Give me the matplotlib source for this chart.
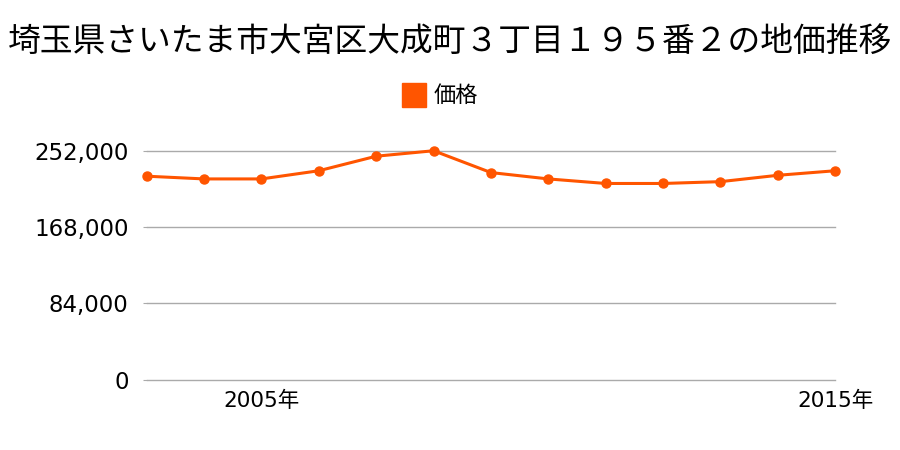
import matplotlib
matplotlib.use("Agg")
import matplotlib.pyplot as plt
from matplotlib.lines import Line2D

plt.rcParams['font.family'] = ['Noto Sans CJK JP', 'DejaVu Sans']

title = "埼玉県さいたま市大宮区大成町３丁目１９５番２の地価推移"
series_name = "価格"
years = [2003, 2004, 2005, 2006, 2007, 2008, 2009, 2010, 2011, 2012, 2013, 2014, 2015]
prices = [224000, 221000, 221000, 230000, 246000, 252000, 228000, 221000,
          216000, 216000, 218000, 225000, 230000]
yticks = [0, 84000, 168000, 252000]
xticks = [2005, 2015]
xlabels = ["2005年", "2015年"]

color = "#ff5500"
num_font = ['DejaVu Sans', 'Noto Sans CJK JP']

fig = plt.figure(figsize=(9, 4.5), dpi=100)
ax = fig.add_axes([0.163, 0.156, 0.765, 0.509])

ax.plot(years, prices, color=color, lw=2.2, marker='o', ms=6.5, clip_on=False, zorder=3)

ax.set_xlim(2003, 2015)
ax.set_ylim(0, 252000)
ax.set_yticks(yticks)
ax.set_yticklabels([f"{v:,}" for v in yticks], family=num_font, fontsize=16.5)
ax.set_xticks(xticks)
ax.set_xticklabels(xlabels, family=num_font, fontsize=15.5)
ax.grid(axis='y', color='#aaaaaa', lw=1)
for gl in ax.get_ygridlines():
    gl.set_clip_on(False)
ax.set_axisbelow(True)
for s in ax.spines.values():
    s.set_visible(False)
ax.tick_params(axis='y', length=3, color='#aaaaaa', pad=10)
ax.tick_params(axis='x', length=0, pad=8)

fig.text(0.5, 0.907, title, ha='center', va='center', fontsize=23.6)

handle = Line2D([], [], color=color, marker='s', ls='none', ms=17)
fig.legend([handle], [series_name], loc='center', bbox_to_anchor=(0.488, 0.787),
           frameon=False, fontsize=16, handletextpad=0.3, handlelength=1.2)

fig.savefig("out.png")
